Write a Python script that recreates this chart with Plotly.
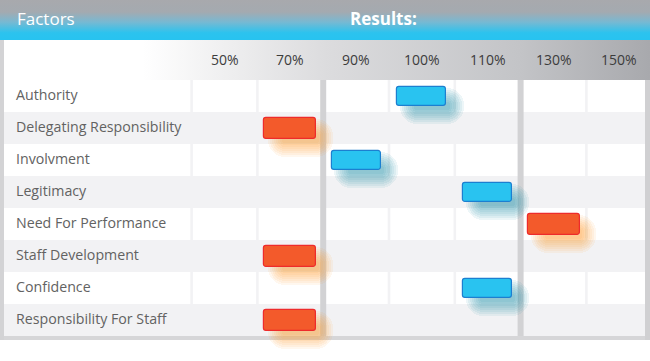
import plotly.graph_objects as go

# ---------------- data ----------------
factors = ["Authority", "Delegating Responsibility", "Involvment", "Legitimacy",
           "Need For Performance", "Staff Development", "Confidence",
           "Responsibility For Staff"]
levels = ["50%", "70%", "90%", "100%", "110%", "130%", "150%"]
results = ["100%", "70%", "90%", "110%", "130%", "70%", "110%", "70%"]
target_low, target_high = "90%", "110%"   # zone bounded by the thick dividers

# ---------------- layout constants (pixels) ----------------
W, H = 650, 361
X0PX, PXX = 224.5, 65.8        # pixel of first level, pixels per level
Y0PX, PXY = 96.0, 32.0         # pixel of first row centre, pixels per row

def px2x(p):
    return (p - X0PX) / PXX

def px2y(p):
    return (p - Y0PX) / PXY

def lx(p):
    return p / PXX

def ly(p):
    return p / PXY

x_range = [px2x(0), px2x(W)]
y_range = [px2y(H), px2y(0)]   # reversed

n_rows = len(factors)
n_lv = len(levels)
lo_i, hi_i = levels.index(target_low), levels.index(target_high)

fig = go.Figure()

# ---------------- header gradients ----------------
hx0, hx1 = px2x(0), px2x(W)
fig.add_trace(go.Scatter(
    x=[hx0, hx1, hx1, hx0, hx0],
    y=[px2y(0), px2y(0), px2y(40), px2y(40), px2y(0)],
    fill="toself", mode="none", hoverinfo="skip", showlegend=False,
    fillgradient=dict(type="vertical", start=px2y(0), stop=px2y(40),
                      colorscale=[[0, "#a8a9ad"], [0.3, "#a4aab0"],
                                  [0.55, "#78b9d2"], [0.82, "#2cc3ee"],
                                  [1, "#27c3f0"]])))
fig.add_trace(go.Scatter(
    x=[hx0, hx1, hx1, hx0, hx0],
    y=[px2y(40), px2y(40), px2y(80), px2y(80), px2y(40)],
    fill="toself", mode="none", hoverinfo="skip", showlegend=False,
    fillgradient=dict(type="horizontal", start=hx0, stop=hx1,
                      colorscale=[[0, "#ffffff"], [0.22, "#ffffff"],
                                  [0.5, "#dcdcde"], [0.8, "#c3c4c7"],
                                  [1, "#a8a9ad"]])))

# ---------------- table background shapes ----------------
shapes = []
t_top, t_bot = -0.5, n_rows - 0.5
left_edge, right_edge = px2x(4), px2x(645)
shapes.append(dict(type="rect", xref="x", yref="y", layer="below",
                   x0=left_edge, x1=right_edge, y0=t_top, y1=t_bot,
                   fillcolor="#f2f2f4", line=dict(width=0)))
gap = lx(1.3)
for r in range(0, n_rows, 2):
    # label cell
    shapes.append(dict(type="rect", xref="x", yref="y", layer="below",
                       x0=left_edge, x1=-0.5 - gap, y0=r - 0.5, y1=r + 0.5,
                       fillcolor="#ffffff", line=dict(width=0)))
    for k in range(n_lv):
        shapes.append(dict(type="rect", xref="x", yref="y", layer="below",
                           x0=k - 0.5 + gap, x1=k + 0.5 - gap,
                           y0=r - 0.5, y1=r + 0.5,
                           fillcolor="#ffffff", line=dict(width=0)))
# thick dividers around the target zone
for xd in (lo_i - 0.5, hi_i + 0.5):
    shapes.append(dict(type="rect", xref="x", yref="y", layer="below",
                       x0=xd - lx(3), x1=xd + lx(3), y0=t_top, y1=t_bot,
                       fillcolor="#d2d2d4", line=dict(width=0)))
# bottom border
shapes.append(dict(type="rect", xref="x", yref="y", layer="below",
                   x0=px2x(0), x1=px2x(W), y0=t_bot, y1=t_bot + ly(4),
                   fillcolor="#d6d6d8", line=dict(width=0)))
# side strips
shapes.append(dict(type="rect", xref="x", yref="y", layer="above",
                   x0=px2x(0), x1=px2x(4), y0=px2y(40), y1=t_bot + ly(4),
                   fillcolor="#d3d3d5", line=dict(width=0)))
shapes.append(dict(type="rect", xref="x", yref="y", layer="above",
                   x0=px2x(645), x1=px2x(W), y0=t_top, y1=t_bot + ly(4),
                   fillcolor="#d0d0d2", line=dict(width=0)))

# ---------------- bars ----------------
res_idx = [levels.index(v) for v in results]
in_zone = [lo_i <= i <= hi_i for i in res_idx]

styles = {
    True: dict(fill="#29c3f0", line="#1c7fd0", w=49, h=19,
               shadow="rgba(20,135,165,{a})"),
    False: dict(fill="#f35a2b", line="#ee2b2b", w=52, h=21,
                shadow="rgba(255,150,40,{a})"),
}

for zone in (True, False):
    st = styles[zone]
    rows = [r for r in range(n_rows) if in_zone[r] == zone]
    cx = [res_idx[r] for r in rows]
    # blurred drop shadow, approximated by stacked translucent layers
    for s in range(0, 16, 2):
        sw = st["w"] * 0.72 + 2 * s
        sh = st["h"] * 0.45 + 2 * s
        fig.add_trace(go.Bar(
            orientation="h", y=[r + ly(10) for r in rows],
            x=[lx(sw)] * len(rows),
            base=[c + lx(10) - lx(sw) / 2 for c in cx],
            width=ly(sh), hoverinfo="skip", showlegend=False,
            marker=dict(color=st["shadow"].format(a=0.08),
                        cornerradius=3 + s, line=dict(width=0))))
    fig.add_trace(go.Bar(
        orientation="h", y=rows, x=[lx(st["w"])] * len(rows),
        base=[c - lx(st["w"]) / 2 for c in cx],
        width=ly(st["h"]), hoverinfo="skip", showlegend=False,
        marker=dict(color=st["fill"], cornerradius=3,
                    line=dict(color=st["line"], width=1.2))))

# ---------------- text ----------------
ann = []
ann.append(dict(text="Factors", xref="paper", yref="paper", x=15 / W,
                y=1 - 19 / H, xanchor="left", yanchor="middle", showarrow=False,
                font=dict(family="Open Sans", size=17, color="#ffffff")))
ann.append(dict(text="<b>Results:</b>", xref="paper", yref="paper",
                x=383 / W, y=1 - 19 / H, xanchor="center", yanchor="middle",
                showarrow=False,
                font=dict(family="Open Sans", size=17, color="#ffffff")))
for k, lv in enumerate(levels):
    ann.append(dict(text=lv, xref="x", yref="y", x=k, y=px2y(59),
                    xanchor="center", yanchor="middle", showarrow=False,
                    font=dict(family="Open Sans", size=14, color="#3c3c3c")))
for r, f in enumerate(factors):
    ann.append(dict(text=f, xref="paper", yref="y", x=14 / W, y=r - ly(1.2),
                    xanchor="left", yanchor="middle", showarrow=False,
                    font=dict(family="Open Sans", size=14.2, color="#626262")))

fig.update_layout(
    width=W, height=H, autosize=False,
    margin=dict(l=0, r=0, t=0, b=0, pad=0),
    paper_bgcolor="#ffffff", plot_bgcolor="#ffffff",
    barmode="overlay", bargap=0,
    shapes=shapes, annotations=ann, showlegend=False,
    xaxis=dict(range=x_range, visible=False, fixedrange=True),
    yaxis=dict(range=y_range, visible=False, fixedrange=True),
)

fig.write_html(
    "out.html",
    config=dict(displayModeBar=False),
    post_script="document.body.style.margin='0';document.body.style.overflow='hidden';",
)
